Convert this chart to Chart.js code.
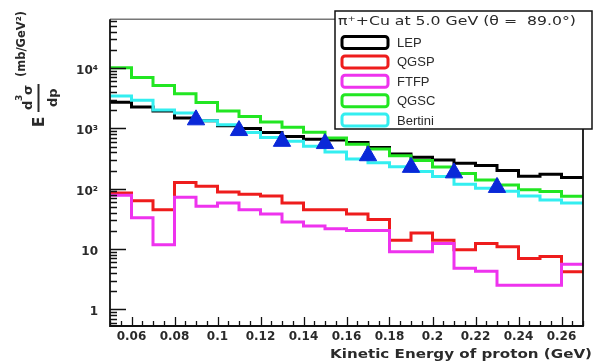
<!DOCTYPE html>
<html>
<head>
<meta charset="utf-8">
<script src="https://cdn.jsdelivr.net/npm/chart.js@4.4.0/dist/chart.umd.min.js"></script>
<style>
  html, body { margin: 0; padding: 0; background: #fff; }
</style>
</head>
<body>
<canvas id="chart" width="594" height="362"></canvas>
<script>
// bin lower edges (GeV), each bin is 0.01 wide, last bin closes at binHigh
const binLow = [0.05, 0.06, 0.07, 0.08, 0.09, 0.10, 0.11, 0.12, 0.13, 0.14, 0.15,
                0.16, 0.17, 0.18, 0.19, 0.20, 0.21, 0.22, 0.23, 0.24, 0.25, 0.26];
const binHigh = 0.27;

// model predictions, E d3sigma/dp (mb/GeV2), one value per bin
const lep     = [2710, 2250, 1940, 1490, 1335, 1110, 991, 853, 735, 658, 640,
                 581, 482, 376, 332, 300, 265, 243, 201, 161, 174, 153];
const qgsp    = [85, 63, 45, 127, 110, 88, 81, 76, 58, 45, 45,
                 38, 31, 14, 18.5, 14, 9.7, 12.3, 10.9, 7.0, 7.5, 4.2];
const ftfp    = [78, 33, 11.8, 72, 51, 58, 45, 38, 28, 24, 21.7,
                 20.3, 20.3, 9.0, 9.0, 12.3, 4.8, 4.3, 2.5, 2.5, 2.5, 5.6];
const qgsc    = [10100, 6970, 5120, 3750, 2680, 1940, 1570, 1270, 1040, 863, 690,
                 546, 453, 353, 293, 229, 178, 139, 115, 96, 90, 75];
const bertini = [3430, 2920, 2010, 1800, 1335, 1150, 853, 708, 610, 506, 405,
                 312, 269, 231, 192, 159, 118, 102, 91, 76, 65, 58];

// measured points
const dataX = [0.09, 0.11, 0.13, 0.15, 0.17, 0.19, 0.21, 0.23];
const dataY = [1386, 920, 610, 560, 352, 226, 183, 105];

const xTicks = [0.06, 0.08, 0.10, 0.12, 0.14, 0.16, 0.18, 0.20, 0.22, 0.24, 0.26];
const yTicks = [1, 10, 100, 1000, 10000];
const yTickLabels = ['1', '10', '10²', '10³', '10⁴'];

const legendTitle = 'π⁺+Cu at 5.0 GeV (θ =  89.0°)';
const xTitle = 'Kinetic Energy of proton (GeV)';

function histPoints(vals) {
  const pts = binLow.map((x, i) => ({ x: x, y: vals[i] }));
  pts.push({ x: binHigh, y: vals[vals.length - 1] });
  return pts;
}

function histSet(label, vals, color, order) {
  return {
    label: label,
    data: histPoints(vals),
    borderColor: color,
    backgroundColor: color,
    borderWidth: 3,
    stepped: 'before',
    pointRadius: 0,
    fill: false,
    borderJoinStyle: 'miter',
    borderCapStyle: 'butt',
    order: order,
    isHist: true
  };
}

// draw text squeezed/stretched to a given width
function fitText(ctx, text, x, y, width) {
  const w = ctx.measureText(text).width;
  ctx.save();
  ctx.translate(x, y);
  ctx.scale(width / w, 1);
  ctx.fillText(text, 0, 0);
  ctx.restore();
}

const framePlugin = {
  id: 'frame',
  afterDraw(chart) {
    const ctx = chart.ctx;
    const a = chart.chartArea;
    const xs = chart.scales.x;
    const ys = chart.scales.y;

    ctx.save();
    // frame
    ctx.strokeStyle = '#777';
    ctx.lineWidth = 1.5;
    ctx.beginPath();
    ctx.moveTo(a.left, a.top);
    ctx.lineTo(a.right, a.top);
    ctx.stroke();
    ctx.strokeStyle = '#111';
    ctx.lineWidth = 1.8;
    ctx.beginPath();
    ctx.moveTo(a.right, a.top);
    ctx.lineTo(a.right, a.bottom);
    ctx.lineTo(a.left, a.bottom);
    ctx.lineTo(a.left, a.top);
    ctx.stroke();

    // log ticks on y axis, inside the frame
    ctx.lineWidth = 1.3;
    ctx.beginPath();
    for (let n = -1; n <= 4; n++) {
      for (let k = 1; k <= 9; k++) {
        const v = k * Math.pow(10, n);
        if (v < ys.min || v > ys.max) continue;
        const py = Math.round(ys.getPixelForValue(v)) + 0.5;
        const len = k === 1 ? 16 : 7;
        ctx.moveTo(a.left, py);
        ctx.lineTo(a.left + len, py);
      }
    }
    // x ticks every 0.005
    for (let i = 0; i <= 44; i++) {
      const v = 0.05 + i * 0.005;
      const px = Math.round(xs.getPixelForValue(v)) + 0.5;
      const big = i % 4 === 2;
      const len = big ? 9 : 5;
      ctx.moveTo(px, a.bottom);
      ctx.lineTo(px, a.bottom - len);
    }
    ctx.stroke();

    // x axis title
    ctx.fillStyle = '#2a2a2a';
    ctx.textBaseline = 'alphabetic';
    ctx.font = 'bold 13px "DejaVu Sans"';
    fitText(ctx, xTitle, 330, 358, 262);

    // y axis title (rotated)
    ctx.save();
    ctx.rotate(-Math.PI / 2);
    ctx.font = 'bold 15px "DejaVu Sans"';
    ctx.fillText('E', -127, 44);
    ctx.font = 'bold 13px "DejaVu Sans"';
    ctx.fillText('d', -110, 32);
    ctx.font = 'bold 9px "DejaVu Sans"';
    ctx.fillText('3', -101, 22);
    ctx.font = 'bold 13px "DejaVu Sans"';
    ctx.fillText('σ', -95, 32);
    ctx.fillText('dp', -107, 57);
    ctx.lineWidth = 2;
    ctx.strokeStyle = '#2a2a2a';
    ctx.beginPath();
    ctx.moveTo(-112, 38.5);
    ctx.lineTo(-84, 38.5);
    ctx.stroke();
    ctx.font = 'bold 12px "DejaVu Sans"';
    fitText(ctx, '(mb/GeV²)', -77, 25, 66);
    ctx.restore();

    // legend box
    const bx = 335, by = 11, bw = 257, bh = 118;
    ctx.fillStyle = '#fff';
    ctx.fillRect(bx, by, bw, bh);
    ctx.strokeStyle = '#111';
    ctx.lineWidth = 1.5;
    ctx.strokeRect(bx, by, bw, bh);
    ctx.fillStyle = '#2a2a2a';
    ctx.textBaseline = 'middle';
    ctx.font = '12px "DejaVu Sans"';
    fitText(ctx, legendTitle, 338, 22, 238);
    const hists = chart.data.datasets.filter(d => d.isHist);
    hists.forEach((d, i) => {
      const cy = 42.5 + i * 19.4;
      ctx.strokeStyle = d.borderColor;
      ctx.lineWidth = 3;
      ctx.beginPath();
      ctx.roundRect(342, cy - 6, 46, 12, 3);
      ctx.stroke();
      ctx.fillStyle = '#2a2a2a';
      ctx.font = '13px "Liberation Sans"';
      ctx.fillText(d.label, 397, cy + 1);
    });
    ctx.restore();
  }
};

new Chart(document.getElementById('chart'), {
  type: 'line',
  data: {
    datasets: [
      histSet('LEP', lep, '#000000', 5),
      histSet('QGSP', qgsp, '#ee1c1c', 4),
      histSet('FTFP', ftfp, '#ee33ee', 3),
      histSet('QGSC', qgsc, '#22e622', 2),
      histSet('Bertini', bertini, '#33eef0', 1),
      {
        label: 'Data',
        data: dataX.map((x, i) => ({ x: x, y: dataY[i] })),
        showLine: false,
        pointStyle: 'triangle',
        pointRadius: 10,
        pointHoverRadius: 10,
        backgroundColor: '#0a28d8',
        borderColor: '#0a28d8',
        borderWidth: 1,
        order: 0
      }
    ]
  },
  options: {
    responsive: false,
    devicePixelRatio: 1,
    animation: false,
    layout: { padding: { top: 12, right: 3, left: 0, bottom: 0 } },
    plugins: { legend: { display: false }, tooltip: { enabled: false } },
    scales: {
      x: {
        type: 'linear',
        min: 0.05,
        max: 0.27,
        grid: { display: false, drawTicks: false },
        border: { display: false },
        afterBuildTicks: s => { s.ticks = xTicks.map(v => ({ value: v })); },
        afterFit: s => { s.height = 36; },
        ticks: {
          autoSkip: false,
          maxRotation: 0,
          padding: 4,
          color: '#2a2a2a',
          font: { family: 'DejaVu Sans', size: 12, weight: 'bold' },
          callback: v => String(parseFloat(Number(v).toFixed(2)))
        }
      },
      y: {
        type: 'logarithmic',
        min: 0.53,
        max: 64500,
        grid: { display: false, drawTicks: false },
        border: { display: false },
        afterBuildTicks: s => { s.ticks = yTicks.map(v => ({ value: v })); },
        afterFit: s => { s.width = 110; },
        ticks: {
          padding: 12,
          labelOffset: 3,
          color: '#2a2a2a',
          font: { family: 'DejaVu Sans', size: 12, weight: 'bold' },
          callback: v => yTickLabels[yTicks.indexOf(v)]
        }
      }
    }
  },
  plugins: [framePlugin]
});
</script>
</body>
</html>
